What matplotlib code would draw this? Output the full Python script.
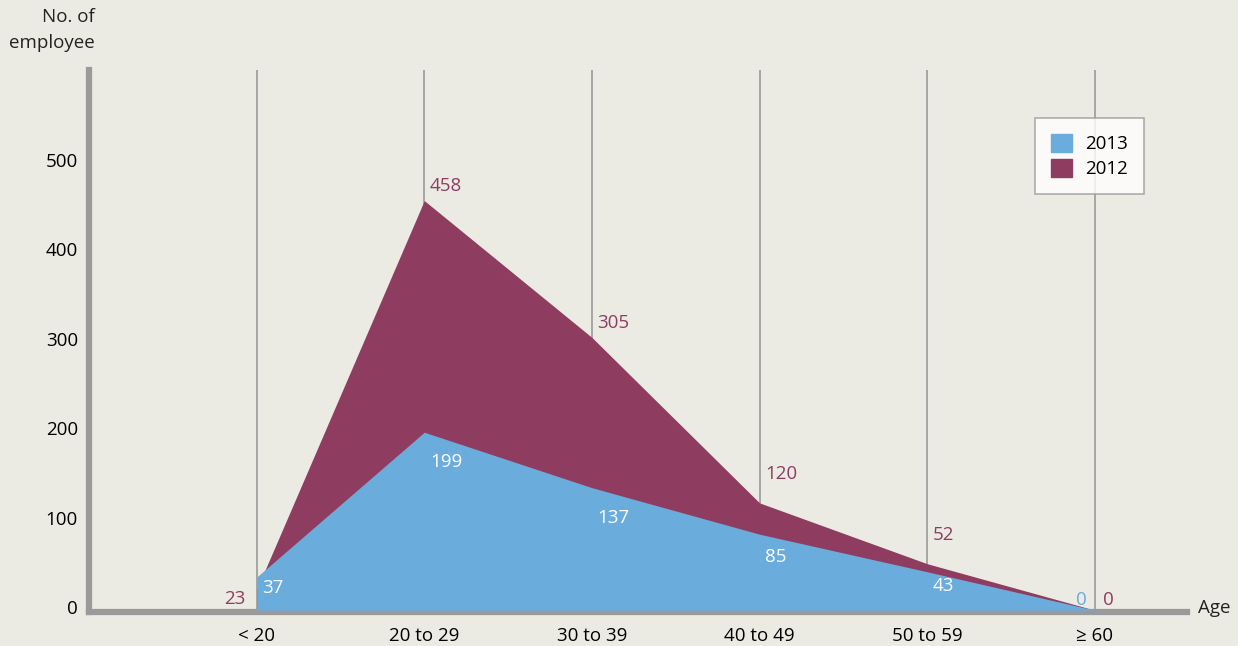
import matplotlib
matplotlib.use("Agg")
import matplotlib.pyplot as plt
import matplotlib.transforms as mtransforms
from matplotlib.patches import Patch

categories = ["< 20", "20 to 29", "30 to 39", "40 to 49", "50 to 59", "≥ 60"]
values_2013 = [37, 199, 137, 85, 43, 0]
values_2012 = [23, 458, 305, 120, 52, 0]
yticks = [0, 100, 200, 300, 400, 500]

BG = "#ECEBE3"
BLUE = "#6AACDC"
MAROON = "#8E3D61"
GRAY = "#9A9A9A"
FS = 13.5

plt.rcParams['font.family'] = ['Open Sans', 'DejaVu Sans']

fig = plt.figure(figsize=(12.38, 6.46), dpi=100, facecolor=BG)
ax = fig.add_axes([89/1238, 1-612/646, (1187-89)/1238, (612-70)/646])
ax.set_facecolor(BG)

x = list(range(len(categories)))
ax.fill_between(x, values_2012, color=MAROON, lw=0, zorder=2)
ax.fill_between(x, values_2013, color=BLUE, lw=0, zorder=3)

for xi in x:
    ax.axvline(xi, color=GRAY, lw=1.2, zorder=1)

ax.set_xlim(-1.0, 5.55)
ax.set_ylim(-2, 604)
ax.set_xticks(x)
ax.set_xticklabels(categories, fontsize=FS)
ax.set_yticks(yticks)
ax.set_yticklabels([str(v) for v in yticks], fontsize=FS)
ax.tick_params(length=0, pad=8)
ax.tick_params(axis='x', pad=11)
shift = mtransforms.ScaledTranslation(0, 3/100, fig.dpi_scale_trans)
for lbl in ax.get_yticklabels():
    lbl.set_transform(lbl.get_transform() + shift)
for s in ["top", "right"]:
    ax.spines[s].set_visible(False)
ax.spines["left"].set_color(GRAY)
ax.spines["left"].set_linewidth(4.5)
ax.spines["bottom"].set_color(GRAY)
ax.spines["bottom"].set_linewidth(4.5)

# labels 2012
offs_2012 = [(-8, -13), (4, 4), (4, 4), (4, 14), (4, 14), (6, 1)]
for i, v in enumerate(values_2012):
    dx, dy = offs_2012[i]
    ha = 'right' if dx < 0 else 'left'
    ax.annotate(str(v), (x[i], v), xytext=(dx, dy), textcoords='offset points',
                color=MAROON, fontsize=FS, ha=ha, va='bottom', zorder=5)
# labels 2013
offs_2013 = [(4, -1), (4, -15), (4, -15), (4, -10), (4, -4), (-6, 1)]
for i, v in enumerate(values_2013):
    dx, dy = offs_2013[i]
    if i == len(values_2013) - 1:
        ax.annotate(str(v), (x[i], v), xytext=(dx, dy), textcoords='offset points',
                    color=BLUE, fontsize=FS, ha='right', va='bottom', zorder=5)
    else:
        ax.annotate(str(v), (x[i], v), xytext=(dx, dy), textcoords='offset points',
                    color='white', fontsize=FS, ha='left', va='top', zorder=5)

leg = ax.legend(handles=[Patch(color=BLUE, label="2013"), Patch(color=MAROON, label="2012")],
                loc='upper left', bbox_to_anchor=((1035-89)/1098, 1-(118-70)/542),
                fontsize=FS, frameon=True, fancybox=False, handlelength=1.1, handleheight=1.1,
                borderpad=0.85, labelspacing=0.3, handletextpad=0.75, borderaxespad=0)
leg.get_frame().set_edgecolor(GRAY)
leg.get_frame().set_linewidth(1.2)
leg.get_frame().set_facecolor('white')
leg.set_zorder(6)

fig.text(95/1238, 1-30/646, "No. of\nemployee", ha='right', va='center', fontsize=FS,
         color='#222222', linespacing=1.5)
fig.text(1198/1238, 1-608/646, "Age", ha='left', va='center', fontsize=FS, color='#222222')

fig.savefig("out.png", dpi=100, facecolor=BG)
